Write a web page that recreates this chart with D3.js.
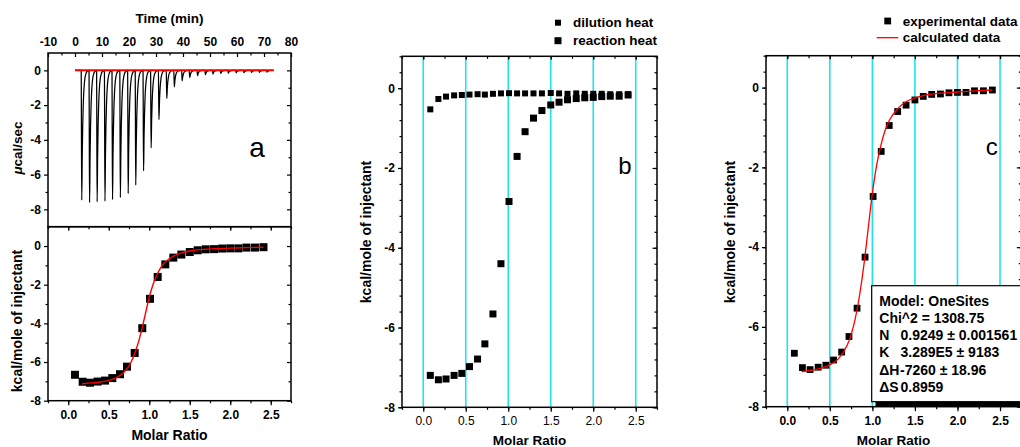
<!DOCTYPE html>
<html><head><meta charset="utf-8">
<script src="https://cdn.jsdelivr.net/npm/d3@7"></script>
<style>
body{margin:0;background:#fff;}
svg{display:block;}
</style></head><body>
<svg id="chart" width="1020" height="447"></svg>
<script>
// ---------------- data ----------------
const injectionTime = [2.3,5.2,8.0,10.9,13.7,16.6,19.5,22.3,25.2,28.0,30.9,33.8,36.6,39.5,42.3,45.2,48.1,50.9,53.8,56.6,59.5,62.4,65.2,68.1,70.9];
const peakPower = [-7.47,-7.61,-7.57,-7.53,-7.44,-7.32,-7.09,-6.61,-5.79,-4.46,-2.83,-1.62,-0.95,-0.6,-0.42,-0.3,-0.25,-0.21,-0.18,-0.16,-0.14,-0.13,-0.12,-0.11,-0.1];
const baselineTime = [0, 73.5];
const baselinePower = [0, 0];
const molarRatio = [0.083,0.178,0.268,0.363,0.454,0.544,0.639,0.725,0.82,0.914,1.009,1.104,1.198,1.297,1.396,1.5,1.598,1.697,1.8,1.9,2.0,2.1,2.2,2.305,2.41];
const experimentalHeat = [-6.66,-7.02,-7.07,-7.01,-6.96,-6.83,-6.63,-6.24,-5.53,-4.25,-2.73,-1.6,-0.95,-0.6,-0.44,-0.31,-0.22,-0.17,-0.16,-0.13,-0.12,-0.12,-0.08,-0.08,-0.06];
const dilutionHeat = [-0.53,-0.27,-0.21,-0.18,-0.17,-0.16,-0.15,-0.16,-0.14,-0.13,-0.125,-0.13,-0.13,-0.13,-0.13,-0.12,-0.13,-0.14,-0.13,-0.14,-0.14,-0.14,-0.15,-0.15,-0.15];
const reactionHeat = [-7.2,-7.31,-7.29,-7.2,-7.15,-6.98,-6.79,-6.41,-5.66,-4.4,-2.84,-1.71,-1.09,-0.75,-0.56,-0.42,-0.35,-0.29,-0.26,-0.24,-0.23,-0.21,-0.2,-0.2,-0.17];
const fitRatio = [0.17,0.3,0.4,0.5,0.6,0.7,0.75,0.8,0.85,0.9,0.95,1.0,1.05,1.1,1.15,1.2,1.3,1.4,1.5,1.6,1.8,2.0,2.2,2.41];
const fitHeat = [-7.12,-7.08,-7.03,-6.95,-6.8,-6.48,-6.2,-5.78,-5.2,-4.45,-3.55,-2.65,-1.95,-1.45,-1.07,-0.82,-0.52,-0.35,-0.26,-0.2,-0.14,-0.11,-0.08,-0.06];
const timeTicks = [-10,0,10,20,30,40,50,60,70,80];
const powerTicks = [0,-2,-4,-6,-8];
const ratioTicks = [0,0.5,1.0,1.5,2.0,2.5];
const heatTicks = [0,-2,-4,-6,-8];
const legendB = ["dilution heat","reaction heat"];
const legendC = ["experimental data","calculated data"];
const fitParams = [["Model: OneSites",""],["Chi^2 = 1308.75",""],["N","0.9249 \u00B1 0.001561"],["K","3.289E5 \u00B1 9183"],["\u0394H","-7260 \u00B1 18.96"],["\u0394S","0.8959"]];

// ---------------- helpers ----------------
const FONT = '"Liberation Sans", Arial, Helvetica, sans-serif';
const svg = d3.select('#chart').attr('font-family', FONT);
const intFmt = v => String(v);
const ratFmt = v => v.toFixed(1);

function ticks(gen, scale, vals, size, tx, ty) {
  svg.append('g').attr('transform', `translate(${tx},${ty})`)
    .call(gen(scale).tickValues(vals).tickSize(size).tickFormat(''))
    .call(g => { g.select('.domain').remove();
      g.selectAll('line').attr('stroke', '#000').attr('stroke-width', 1.2); });
}
function labels(gen, scale, vals, pad, tx, ty, fs, weight, fmt) {
  svg.append('g').attr('transform', `translate(${tx},${ty})`)
    .call(gen(scale).tickValues(vals).tickSize(0).tickPadding(pad).tickFormat(fmt))
    .call(g => { g.select('.domain').remove(); g.selectAll('line').remove();
      g.selectAll('text').attr('font-family', FONT).attr('font-size', fs)
        .attr('font-weight', weight).attr('fill', '#000'); });
}
function frame(x0, y0, x1, y1) {
  svg.append('rect').attr('x', x0).attr('y', y0).attr('width', x1 - x0).attr('height', y1 - y0)
    .attr('fill', 'none').attr('stroke', '#000').attr('stroke-width', 1.5);
}
function text(x, y, s, fs, weight, anchor, rot) {
  const t = svg.append('text').attr('x', x).attr('y', y).attr('font-size', fs)
    .attr('font-weight', weight).attr('text-anchor', anchor || 'middle').attr('fill', '#000').text(s);
  if (rot) t.attr('transform', `rotate(${rot},${x},${y})`).attr('dominant-baseline', 'central');
  return t;
}
function squares(xs, ys, xScale, yScale, size) {
  svg.append('g').selectAll('rect').data(xs).join('rect')
    .attr('x', (d, i) => xScale(d) - size / 2).attr('y', (d, i) => yScale(ys[i]) - size / 2)
    .attr('width', size).attr('height', size).attr('fill', '#000');
}
function fitLine(xScale, yScale, w) {
  svg.append('path').datum(fitRatio.map((r, i) => [r, fitHeat[i]]))
    .attr('d', d3.line().x(d => xScale(d[0])).y(d => yScale(d[1])).curve(d3.curveMonotoneX))
    .attr('fill', 'none').attr('stroke', '#ff0000').attr('stroke-width', w);
}
const minorRatio = d3.range(-0.25, 2.76, 0.25).map(v => +v.toFixed(2));

// ---------------- panel a (top): raw thermogram ----------------
const xT = d3.scaleLinear().domain([-10, 80]).range([48, 291]);
const yT = d3.scaleLinear().domain([-9, 1]).range([226.7, 53]);
{
  const pts = [[0, 0]];
  injectionTime.forEach((t, i) => {
    const d = peakPower[i];
    pts.push([t, 0]);
    pts.push([t + 0.08, d * 0.45]);
    pts.push([t + 0.2, d]);
    for (let k = 1; k <= 14; k++) {
      const dt = k * 0.18;
      pts.push([t + 0.2 + dt, d * Math.exp(-dt / 0.42)]);
    }
  });
  pts.push([73.5, 0]);
  svg.append('path').datum(pts)
    .attr('d', d3.line().x(d => xT(d[0])).y(d => yT(d[1])).curve(d3.curveMonotoneX))
    .attr('fill', 'none').attr('stroke', '#000').attr('stroke-width', 1.25);
  svg.append('path').datum(baselineTime.map((t, i) => [t, baselinePower[i]]))
    .attr('d', d3.line().x(d => xT(d[0])).y(d => yT(d[1])))
    .attr('stroke', '#ff0000').attr('stroke-width', 2);
}
ticks(d3.axisBottom, xT, timeTicks, 4, 0, 53);
ticks(d3.axisBottom, xT, d3.range(-5, 80, 10), 2.5, 0, 53);
labels(d3.axisTop, xT, timeTicks, 7, 0, 53, 12, 'bold', intFmt);
ticks(d3.axisLeft, yT, powerTicks, 4, 48, 0);
ticks(d3.axisLeft, yT, [-1, -3, -5, -7], 2.5, 48, 0);
labels(d3.axisLeft, yT, powerTicks, 7, 48, 0, 12, 'bold', intFmt);
ticks(d3.axisRight, yT, powerTicks, -4, 291, 0);
ticks(d3.axisRight, yT, [-1, -3, -5, -7], -2.5, 291, 0);
text(169.5, 22.5, 'Time (min)', 13.5, 'bold');
{
  const t = text(17, 148, '', 13.5, 'bold', 'middle', -90);
  t.append('tspan').attr('font-style', 'italic').text('\u03BC');
  t.append('tspan').text('cal/sec');
}
text(257, 157, 'a', 28, 'normal');

// ---------------- panel a (bottom): integrated heats ----------------
const xB = d3.scaleLinear().domain([-0.25, 2.75]).range([48, 291]);
const yB = d3.scaleLinear().domain([-8, 1]).range([400.7, 226.7]);
squares(molarRatio, experimentalHeat, xB, yB, 8);
fitLine(xB, yB, 1.4);
ticks(d3.axisBottom, xB, ratioTicks, 4, 0, 226.7);
ticks(d3.axisBottom, xB, minorRatio, 2.5, 0, 226.7);
ticks(d3.axisBottom, xB, ratioTicks, 4.5, 0, 400.7);
ticks(d3.axisBottom, xB, minorRatio, 2.5, 0, 400.7);
labels(d3.axisBottom, xB, ratioTicks, 10, 0, 400.7, 12, 'bold', ratFmt);
ticks(d3.axisLeft, yB, heatTicks, 4, 48, 0);
ticks(d3.axisLeft, yB, [-1, -3, -5, -7], 2.5, 48, 0);
labels(d3.axisLeft, yB, heatTicks, 7, 48, 0, 12, 'bold', intFmt);
ticks(d3.axisRight, yB, heatTicks, -4, 291, 0);
ticks(d3.axisRight, yB, [-1, -3, -5, -7], -2.5, 291, 0);
frame(48, 53, 291, 226.7);
frame(48, 226.7, 291, 400.7);
text(17, 321, 'kcal/mole of injectant', 14, 'bold', 'middle', -90);
text(169.5, 440, 'Molar Ratio', 14, 'bold');

// ---------------- shared for b and c ----------------
const minorHeat = d3.range(-8, 0.81, 0.4).map(v => +v.toFixed(2));
function gridPanel(xs, ys, x0, x1, y0, y1) {
  svg.append('g').selectAll('line').data(ratioTicks).join('line')
    .attr('x1', d => xs(d)).attr('x2', d => xs(d)).attr('y1', y0).attr('y2', y1)
    .attr('stroke', '#1fe3ef').attr('stroke-width', 1.6);
}
function axesPanel(xs, ys, x0, x1, y0, y1, xWeight) {
  ticks(d3.axisBottom, xs, ratioTicks, 3.5, 0, y0);
  ticks(d3.axisBottom, xs, minorRatio, 2.5, 0, y0);
  ticks(d3.axisBottom, xs, ratioTicks, 4.5, 0, y1);
  ticks(d3.axisBottom, xs, minorRatio, 2.5, 0, y1);
  labels(d3.axisBottom, xs, ratioTicks, 9.5, 0, y1, 12, xWeight, ratFmt);
  ticks(d3.axisLeft, ys, heatTicks, 4, x0, 0);
  ticks(d3.axisLeft, ys, minorHeat, 2.5, x0, 0);
  labels(d3.axisLeft, ys, heatTicks, 7, x0, 0, 12, 'bold', intFmt);
  ticks(d3.axisRight, ys, heatTicks, -4.5, x1, 0);
  ticks(d3.axisRight, ys, minorHeat, -2.5, x1, 0);
  frame(x0, y0, x1, y1);
}

// ---------------- panel b ----------------
const xb = d3.scaleLinear().domain([-0.25, 2.75]).range([402, 657]);
const yb = d3.scaleLinear().domain([-8, 0.8]).range([407.3, 56.3]);
gridPanel(xb, yb, 402, 657, 56.3, 407.3);
squares(molarRatio, dilutionHeat, xb, yb, 6);
squares(molarRatio, reactionHeat, xb, yb, 7);
axesPanel(xb, yb, 402, 657, 56.3, 407.3, 'normal');
text(366, 232, 'kcal/mole of injectant', 14, 'bold', 'middle', -90);
text(529.5, 445, 'Molar Ratio', 13.5, 'bold');
text(625, 173.5, 'b', 24, 'normal');
svg.append('rect').attr('x', 555).attr('y', 19.7).attr('width', 6).attr('height', 6).attr('fill', '#000');
svg.append('rect').attr('x', 554.5).attr('y', 37.2).attr('width', 7).attr('height', 7).attr('fill', '#000');
legendB.forEach((s, i) => text(573, 27.4 + i * 18, s, 13.5, 'bold', 'start'));

// ---------------- panel c ----------------
const xc = d3.scaleLinear().domain([-0.25, 2.75]).range([766, 1021.3]);
const yc = d3.scaleLinear().domain([-8, 0.8]).range([406.7, 55.7]);
gridPanel(xc, yc, 766, 1021.3, 55.7, 406.7);
squares(molarRatio, experimentalHeat, xc, yc, 6.8);
fitLine(xc, yc, 1.3);
axesPanel(xc, yc, 766, 1021.3, 55.7, 406.7, 'bold');
text(730, 232, 'kcal/mole of injectant', 14, 'bold', 'middle', -90);
text(893.5, 445, 'Molar Ratio', 13.5, 'bold');
text(991.7, 154.5, 'c', 24, 'normal');
svg.append('rect').attr('x', 884.3).attr('y', 17.6).attr('width', 6.8).attr('height', 6.8).attr('fill', '#000');
svg.append('line').attr('x1', 876.7).attr('x2', 898.3).attr('y1', 37.7).attr('y2', 37.7)
  .attr('stroke', '#ff0000').attr('stroke-width', 1.3);
legendC.forEach((s, i) => text(902.7, 25.7 + i * 16.7, s, 13.5, 'bold', 'start'));

// fit parameter box
svg.append('rect').attr('x', 875.5).attr('y', 290).attr('width', 200).attr('height', 116.7).attr('fill', '#000');
svg.append('rect').attr('x', 871.7).attr('y', 285.7).attr('width', 200).attr('height', 116)
  .attr('fill', '#fff').attr('stroke', '#000').attr('stroke-width', 1.2);
fitParams.forEach((p, i) => {
  const y = 305.5 + i * 17.3;
  text(879.3, y, p[0], 14, 'bold', 'start');
  if (p[1]) text(p[0] === '\u0394H' ? 900 : 900.5, y, p[1], 14, 'bold', 'start');
});
</script>
</body></html>
